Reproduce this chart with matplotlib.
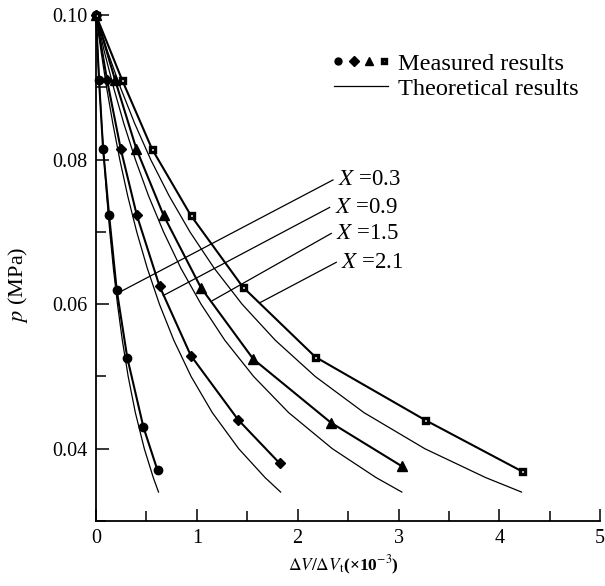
import matplotlib
matplotlib.use('Agg')
import matplotlib.pyplot as plt
from matplotlib.ticker import MultipleLocator, FormatStrFormatter
from matplotlib.legend_handler import HandlerTuple

plt.rcParams['font.family'] = ['Liberation Serif', 'DejaVu Serif']
plt.rcParams['mathtext.fontset'] = 'stix'

# measured pressure (MPa) vs. dV/dVt (x1e-3) for the four X values
x_meas = {
    '0.3': [0, 0.03, 0.07, 0.13, 0.205, 0.31, 0.47, 0.61],
    '0.9': [0, 0.11, 0.245, 0.405, 0.63, 0.94, 1.41, 1.82],
    '1.5': [0, 0.19, 0.40, 0.67, 1.04, 1.56, 2.33, 3.03],
    '2.1': [0, 0.26, 0.555, 0.94, 1.455, 2.175, 3.26, 4.22],
}
p_meas = {
    '0.3': [0.100, 0.091, 0.0815, 0.0723, 0.0620, 0.0526, 0.0430, 0.0370],
    '0.9': [0.100, 0.091, 0.0815, 0.0723, 0.0625, 0.0529, 0.0440, 0.0380],
    '1.5': [0.100, 0.091, 0.0815, 0.0723, 0.0623, 0.0524, 0.0436, 0.0376],
    '2.1': [0.100, 0.091, 0.0815, 0.0723, 0.0624, 0.0527, 0.0440, 0.0369],
}

# theoretical curves, sampled at common pressure levels
p_theo = [0.100, 0.095, 0.090, 0.085, 0.080, 0.075, 0.070, 0.065,
          0.060, 0.055, 0.050, 0.045, 0.040, 0.036, 0.034]
x_theo = {
    '0.3': [0, 0.017, 0.035, 0.056, 0.080, 0.106, 0.137, 0.172,
            0.213, 0.261, 0.319, 0.390, 0.479, 0.568, 0.620],
    '0.9': [0, 0.050, 0.105, 0.167, 0.236, 0.314, 0.404, 0.508,
            0.629, 0.772, 0.943, 1.153, 1.415, 1.677, 1.831],
    '1.5': [0, 0.082, 0.174, 0.276, 0.391, 0.521, 0.670, 0.841,
            1.042, 1.278, 1.563, 1.910, 2.344, 2.778, 3.033],
    '2.1': [0, 0.114, 0.242, 0.384, 0.543, 0.725, 0.932, 1.171,
            1.449, 1.779, 2.174, 2.657, 3.261, 3.865, 4.220],
}

# leader lines: (start x, start p) -> label at (end x, end p)
leaders = {
    '0.3': ((0.238, 0.0617), (2.35, 0.0772)),
    '0.9': ((0.667, 0.0612), (2.317, 0.0734)),
    '1.5': ((1.155, 0.0605), (2.333, 0.0698)),
    '2.1': ((1.624, 0.0602), (2.383, 0.0658)),
}

markers = {'0.3': 'o', '0.9': 'D', '1.5': '^', '2.1': 's'}
msizes = {'0.3': 6, '0.9': 5.5, '1.5': 7, '2.1': 3.6}


def marker_style(key, size):
    if key == '2.1':
        # black square with a small white centre
        return dict(marker='s', ms=size, mfc='white', mec='black', mew=2.4)
    return dict(marker=markers[key], ms=size, mfc='black', mec='black')


fig = plt.figure(figsize=(6.05, 5.86), dpi=100)
ax = fig.add_axes([0.1587, 0.111, 0.8333, 0.863])

for key in x_meas:
    ax.plot(x_theo[key], p_theo, color='black', lw=0.9, clip_on=False)
    ax.plot(x_meas[key], p_meas[key], color='black', lw=1.5,
            clip_on=False, **marker_style(key, msizes[key]))

for key, (start, end) in leaders.items():
    ax.plot([start[0], end[0]], [start[1], end[1]], color='black', lw=0.9)
    ax.text(end[0] + 0.05, end[1], r'$X$ =' + key, fontsize=16.5,
            va='center', ha='left')

# legend: four marker types on one row, theory line below
mk = []
leg_sizes = {'0.3': 5, '0.9': 5, '1.5': 6, '2.1': 3.2}
for key in x_meas:
    m, = ax.plot([], [], ls='none', **marker_style(key, leg_sizes[key]))
    mk.append(m)
line_h, = ax.plot([], [], color='black', lw=0.9)
ax.legend([tuple(mk), line_h], ['Measured results', 'Theoretical results'],
          handler_map={tuple: HandlerTuple(ndivide=None, pad=0.3)},
          loc='upper left', bbox_to_anchor=(0.473, 0.926), frameon=False,
          fontsize=17.5, handlelength=2.2, handletextpad=0.42,
          labelspacing=0.12, borderaxespad=0, borderpad=0)

ax.set_xlim(0, 5)
ax.set_ylim(0.03, 0.10)
ax.xaxis.set_major_locator(MultipleLocator(1))
ax.xaxis.set_minor_locator(MultipleLocator(0.5))
ax.yaxis.set_minor_locator(MultipleLocator(0.01))
ax.yaxis.set_major_formatter(FormatStrFormatter('%.2f'))
ax.set_yticks([0.04, 0.06, 0.08, 0.10])

ax.tick_params(which='both', direction='in', labelsize=14.5, width=1.1)
ax.tick_params(which='major', length=9, pad=6)
ax.tick_params(which='minor', length=7)

for s in ['top', 'right']:
    ax.spines[s].set_visible(False)
for s in ['left', 'bottom']:
    ax.spines[s].set_linewidth(1.3)

ax.set_xlabel(r'$\Delta V/\Delta V_{\rm t}$(×10$^{-3}$)', fontsize=12.5,
              fontweight='bold')
ax.xaxis.set_label_coords(0.49, -0.064)
ax.set_ylabel(r'$p$ (MPa)', fontsize=16)
ax.yaxis.set_label_coords(-0.131, 0.466)

fig.savefig('out.png', dpi=100)
